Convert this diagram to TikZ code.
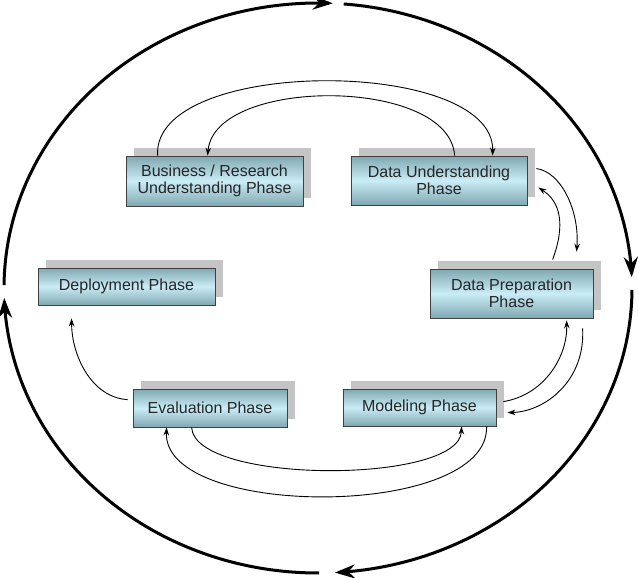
\documentclass[tikz,border=0pt]{standalone}
\usepackage{fontspec}
\setmainfont{Liberation Sans}
\usetikzlibrary{arrows.meta,shadows,calc}
\definecolor{tealdark}{RGB}{128,168,178}
\definecolor{teallight}{RGB}{202,236,246}
\definecolor{shadowgray}{RGB}{196,196,196}
\begin{document}
\begin{tikzpicture}[x=1pt,y=-1pt,
  phase/.style={draw=black!75, line width=0.8pt, top color=tealdark, bottom color=tealdark, middle color=teallight,
    align=center, font=\fontsize{16}{17}\selectfont, text=black!85, inner sep=0pt,
    drop shadow={shadow xshift=8pt, shadow yshift=8pt, fill=shadowgray, opacity=1}},
  link/.style={line width=0.9pt, -{Stealth[length=8pt,width=5.5pt]}},
  outerarc/.style={line width=3pt, -{Stealth[length=20pt,width=14pt]}}]
\useasboundingbox (0,0) rectangle (638,578);

% phases
\node[phase, minimum width=177pt, minimum height=50pt] (bus) at (214.5,181) {Business / Research\\Understanding Phase};
\node[phase, minimum width=176pt, minimum height=49pt] (du) at (439,180.5) {Data Understanding\\Phase};
\node[phase, minimum width=177pt, minimum height=37pt] (dep) at (126.5,286.5) {Deployment Phase};
\node[phase, minimum width=163pt, minimum height=49pt] (dp) at (511.5,293.5) {Data Preparation\\Phase};
\node[phase, minimum width=154pt, minimum height=38pt] (eval) at (210,408) {Evaluation Phase};
\node[phase, minimum width=153pt, minimum height=37pt] (mod) at (419.5,407.5) {Modeling Phase};

% outer cycle
\draw[outerarc] plot[domain=179.4:87.3, samples=90, smooth] ({318+314*cos(\x)},{288-285*sin(\x)});
\draw[outerarc] plot[domain=85.3:2.2, samples=90, smooth] ({318+314*cos(\x)},{288-285*sin(\x)});
\draw[outerarc] plot[domain=-0.4:-86.9, samples=90, smooth] ({318+314*cos(\x)},{288-285*sin(\x)});
\draw[outerarc] plot[domain=-89.8:-178, samples=90, smooth] ({318+314*cos(\x)},{288-285*sin(\x)});

% top loops
\draw[link] ([xshift=32pt]bus.north west) .. controls +(-6,-99) and +(2,-99) .. ([xshift=142pt]du.north west);
\draw[link] ([xshift=104pt]du.north west) .. controls +(-5,-79) and +(7,-79) .. ([xshift=82pt]bus.north west);

% DU <-> DP
\draw[link] ($(du.north east)+(9,13)$) .. controls +(24,3) and +(3,-42) .. ($(dp.north west)+(147,-17)$);
\draw[link] ($(dp.north west)+(123,-9)$) .. controls +(13,-35) and +(22,14) .. ($(du.north east)+(11,32)$);

% Modeling <-> DP
\draw[link] ($(mod.north east)+(7,13)$) .. controls +(42,-7) and +(1,35) .. ($(dp.south west)+(137,2)$);
\draw[link] ($(dp.south west)+(153,10)$) .. controls +(3,52) and +(38,-1) .. ($(mod.north east)+(11,24)$);

% Evaluation -> Deployment
\draw[link] ($(eval.north west)+(-5,11)$) .. controls +(-36,-2) and +(0,37) .. ($(dep.south west)+(34,13)$);

% bottom loops
\draw[link] ([xshift=59pt]eval.south west) .. controls +(3,57) and +(-2,58) .. ([xshift=119pt]mod.south west);
\draw[link] ([xshift=144pt]mod.south west) .. controls +(3,93) and +(-4,92) .. ([xshift=34pt]eval.south west);
\end{tikzpicture}
\end{document}
